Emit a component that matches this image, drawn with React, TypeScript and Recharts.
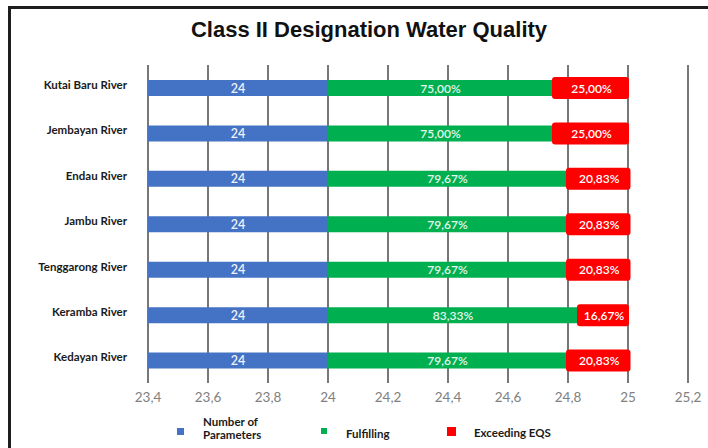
import { BarChart, Bar, XAxis, YAxis, CartesianGrid, LabelList } from "recharts";

const rivers = [
  "Kutai Baru River",
  "Jembayan River",
  "Endau River",
  "Jambu River",
  "Tenggarong River",
  "Keramba River",
  "Kedayan River",
];
const parameters = [24, 24, 24, 24, 24, 24, 24];
const fulfilling = [75.0, 75.0, 79.67, 79.67, 79.67, 83.33, 79.67];
const exceeding = [25.0, 25.0, 20.83, 20.83, 20.83, 16.67, 20.83];
const xTicks = [23.4, 23.6, 23.8, 24, 24.2, 24.4, 24.6, 24.8, 25, 25.2];

const data = rivers.map((name, i) => ({
  name,
  params: parameters[i],
  ok: fulfilling[i] / 100,
  bad: exceeding[i] / 100,
  okPct: fulfilling[i],
  badPct: exceeding[i],
}));

const BLUE = "#4472C4";
const GREEN = "#00B050";
const RED = "#FF0000";

const Y_WIDTH = 148;
const MARGIN = { top: 65, right: 20, bottom: 35, left: 0 };
const PLOT_LEFT = MARGIN.left + Y_WIDTH;

const pct = (v: number) => v.toFixed(2).replace(".", ",") + "%";
const comma = (v: number) => String(v).replace(".", ",");

const box = (p: any) => {
  const vb = p.viewBox || {};
  return {
    x: Number(p.x ?? vb.x),
    y: Number(p.y ?? vb.y),
    w: Number(p.width ?? vb.width),
    h: Number(p.height ?? vb.height),
  };
};

// blue bar is clipped at the axis min, so centre the label on what's visible
const ParamLabel = (p: any) => {
  const { x, y, w, h } = box(p);
  const left = Math.max(x, PLOT_LEFT);
  const right = x + w;
  return (
    <text x={(left + right) / 2} y={y + h / 2} textAnchor="middle" dominantBaseline="central"
      fill="#eef1f8" fontSize={12.5} fontWeight={600} fontFamily="Lato">
      {p.value}
    </text>
  );
};

const OkLabel = (p: any) => {
  const { x, y, w, h } = box(p);
  return (
    <text x={x + w / 2} y={y + h / 2} textAnchor="middle" dominantBaseline="central"
      fill="#e4f5ea" fontSize={12} fontWeight={600} fontFamily="Lato">
      {pct(p.value)}
    </text>
  );
};

const BadLabel = (p: any) => {
  const { x, y, w, h } = box(p);
  return (
    <g>
      <rect x={x - 1} y={y - 3} width={w + 2} height={h + 6} rx={3} fill={RED} />
      <text x={x + w / 2 + 1} y={y + h / 2} textAnchor="middle" dominantBaseline="central"
        fill="#ffffff" fontSize={12} fontWeight={600} fontFamily="Lato">
        {pct(p.value)}
      </text>
    </g>
  );
};

const legendText: React.CSSProperties = {
  position: "absolute",
  fontFamily: "Lato",
  fontWeight: 700,
  fontSize: 11.5,
  lineHeight: "13px",
  color: "#1a1a1a",
  whiteSpace: "nowrap",
};

export default function App() {
  return (
    <div>
      <div
        style={{
          position: "absolute",
          left: 8,
          top: 6,
          width: 700,
          height: 442,
          boxSizing: "border-box",
          borderLeft: "3px solid #1e1e1e",
          borderTop: "3px solid #1e1e1e",
        }}
      />
      <div
        style={{
          position: "absolute",
          left: 0,
          top: 17,
          width: 738,
          textAlign: "center",
          fontFamily: "Liberation Sans",
          fontWeight: 700,
          fontSize: 22,
          lineHeight: "26px",
          color: "#111",
        }}
      >
        Class II Designation Water Quality
      </div>

      <div style={{ position: "absolute", left: 0, top: 0 }}>
        <BarChart
          width={708}
          height={448}
          data={data}
          layout="vertical"
          margin={MARGIN}
          barSize={16}
          style={{ fontFamily: "Lato" }}
        >
          <CartesianGrid horizontal={false} stroke="#777" strokeWidth={2} />
          <XAxis
            type="number"
            domain={[23.4, 25.2]}
            ticks={xTicks}
            allowDataOverflow
            tickFormatter={comma}
            axisLine={false}
            tickLine={false}
            tickSize={0}
            tickMargin={9}
            height={30}
            tick={{ fill: "#808080", fontSize: 13.5 }}
          />
          <YAxis
            type="category"
            dataKey="name"
            width={Y_WIDTH}
            axisLine={false}
            tickLine={false}
            tickSize={0}
            tickMargin={21}
            tick={{ fill: "#1a1a1a", fontSize: 11.5, fontWeight: 700, dy: -3 }}
          />
          <Bar dataKey="params" stackId="a" fill={BLUE} isAnimationActive={false}>
            <LabelList dataKey="params" content={ParamLabel} />
          </Bar>
          <Bar dataKey="ok" stackId="a" fill={GREEN} isAnimationActive={false}>
            <LabelList dataKey="okPct" content={OkLabel} />
          </Bar>
          <Bar dataKey="bad" stackId="a" fill={RED} isAnimationActive={false}>
            <LabelList dataKey="badPct" content={BadLabel} />
          </Bar>
        </BarChart>
      </div>

      {/* legend */}
      <div style={{ position: "absolute", left: 177, top: 428, width: 7, height: 7, background: BLUE }} />
      <div style={{ ...legendText, left: 203, top: 415 }}>
        Number of
        <br />
        Parameters
      </div>
      <div style={{ position: "absolute", left: 321, top: 428, width: 6, height: 6, background: GREEN }} />
      <div style={{ ...legendText, left: 346, top: 427 }}>Fulfilling</div>
      <div style={{ position: "absolute", left: 447, top: 427, width: 9, height: 9, background: RED }} />
      <div style={{ ...legendText, left: 474, top: 426 }}>Exceeding EQS</div>
    </div>
  );
}
